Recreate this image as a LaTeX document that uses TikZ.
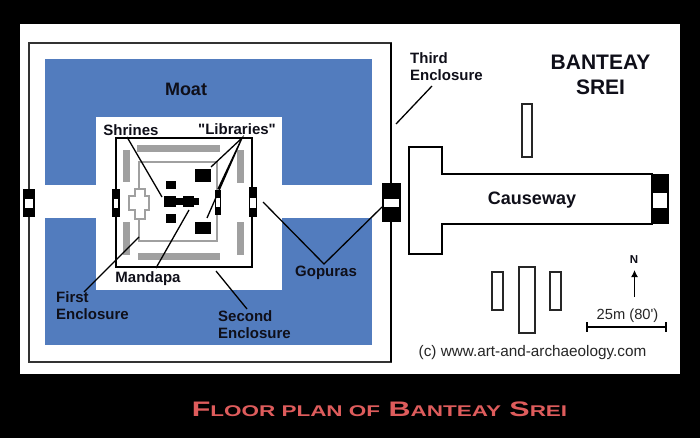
\documentclass[tikz,border=0pt]{standalone}
\usepackage{fontspec}
\usetikzlibrary{arrows.meta}
\setmainfont{Liberation Sans}
\newfontfamily\plainsans{Liberation Sans}
\definecolor{moatblue}{RGB}{82,124,190}
\definecolor{wallgrey}{RGB}{160,160,160}
\definecolor{titlered}{RGB}{222,92,92}
\definecolor{inkdark}{RGB}{15,15,25}
\tikzset{
 x=1pt,y=-1pt,
 lbl/.style={font=\fontsize{15}{17}\selectfont\bfseries,text=inkdark,inner sep=0pt,align=left},
 leader/.style={draw=black,line width=1.3pt},
 thinbox/.style={draw=black!85,line width=1.4pt,fill=white},
}
\begin{document}
\begin{tikzpicture}
\useasboundingbox (0,0) rectangle (700,438);
\fill[black] (0,0) rectangle (700,438);
\fill[white] (20,24) rectangle (680,374);
% moat
\fill[moatblue] (45,59) rectangle (372,345);
\fill[white] (45,185) rectangle (372,218);
\fill[white] (96,117) rectangle (282,290);
% third enclosure
\draw[draw=black!80,line width=1.8pt] (29,43) -- (391,43) -- (391,362) -- (29,362) -- cycle;
\draw[black,line width=2.6pt] (391,43) -- (391,362);
% first enclosure
\draw[black,line width=1.6pt] (116,138) rectangle (252,267);
% grey galleries
\fill[wallgrey] (137,145) rectangle (220,152);
\fill[wallgrey] (138,253) rectangle (220,260);
\fill[wallgrey] (123,150) rectangle (130,182);
\fill[wallgrey] (123,222) rectangle (130,255);
\fill[wallgrey] (237,150) rectangle (244,183);
\fill[wallgrey] (237,222) rectangle (244,255);
\draw[wallgrey,line width=1.2pt] (139,189) -- (139,162) -- (217,162) -- (217,241) -- (139,241) -- (139,219);
\draw[wallgrey,line width=1.2pt] (135,189) -- (145,189) -- (145,196) -- (149,196) -- (149,210) -- (145,210) -- (145,219) -- (135,219) -- (135,210) -- (129,210) -- (129,196) -- (135,196) -- cycle;
% sanctuary
\fill[black] (166,181) rectangle (176,189);
\fill[black] (166,214) rectangle (176,223);
\fill[black] (164,196) rectangle (176,207);
\fill[black] (176,198) rectangle (183,205);
\fill[black] (183,196) rectangle (194,207);
\fill[black] (194,198) rectangle (199,205);
\fill[black] (195,169) rectangle (211,182);
\fill[black] (195,222) rectangle (211,234);
% gopuras
\fill[black] (23,189) rectangle (35,217); \fill[white] (25,199) rectangle (33,208);
\fill[black] (112,189) rectangle (120,217); \fill[white] (114,199) rectangle (118,208);
\fill[black] (215,190) rectangle (221,215); \fill[white] (216,198) rectangle (220,207);
\fill[black] (249,187) rectangle (257,217); \fill[white] (250,198) rectangle (256,208);
\fill[black] (382,183) rectangle (401,222); \fill[white] (384,199) rectangle (399,207);
% causeway
\draw[black,line width=1.5pt,fill=white] (409,147) -- (442,147) -- (442,174) -- (652,174) -- (652,224) -- (442,224) -- (442,254) -- (409,254) -- cycle;
\fill[black] (652,174) rectangle (669,224); \fill[white] (653,193) rectangle (667,208);
% small buildings
\node[thinbox,minimum width=10pt,minimum height=53pt,inner sep=0pt] (north) at (527,130.5) {};
\node[thinbox,minimum width=11pt,minimum height=38pt,inner sep=0pt] (sa) at (497.5,291) {};
\node[thinbox,minimum width=16pt,minimum height=66pt,inner sep=0pt] (sb) at (527,300) {};
\node[thinbox,minimum width=11pt,minimum height=38pt,inner sep=0pt] (sc) at (555.5,291) {};
% leader ends
\coordinate (tA) at (396,124); \coordinate (tB) at (432,86);
\coordinate (shA) at (127,137); \coordinate (shB) at (162,197);
\coordinate (liA) at (242,138); \coordinate (liB) at (211,167); \coordinate (liC) at (218,189); \coordinate (liD) at (207,218);
\coordinate (maA) at (156,268); \coordinate (maB) at (189,210);
\coordinate (fiA) at (84,292); \coordinate (fiB) at (139,237);
\coordinate (seA) at (216,271); \coordinate (seB) at (247,309);
\coordinate (goA) at (263,202); \coordinate (goB) at (324,264); \coordinate (goD) at (382,207);
\draw[leader] (tA) -- (tB);
\draw[leader] (shA) -- (shB);
\draw[leader] (liB) -- (liA) -- (liC) (liA) -- (liD);
\draw[leader] (maA) -- (maB);
\draw[leader] (fiA) -- (fiB);
\draw[leader] (seA) -- (seB);
\draw[leader] (goA) -- (goB) -- (goD);
% labels
\node[lbl,font=\fontsize{18}{18}\selectfont\bfseries] (moat) at (186,89) {Moat};
\node[lbl] (shrines) at (131,130) {Shrines};
\node[lbl] (libs) at (237,129) {\plainsans"Libraries"};
\node[lbl] (mandapa) at (148,279) {Mandapa};
\node[lbl] (gopuras) at (326,273) {Gopuras};
\node[lbl,anchor=west] (first) at (56,306) {First\\Enclosure};
\node[lbl,anchor=west] (second) at (218,325) {Second\\Enclosure};
\node[lbl,anchor=west] (third) at (410,67) {Third\\Enclosure};
\node[lbl,align=center,font=\fontsize{21}{25}\selectfont\bfseries] (title) at (600.5,74.5) {BANTEAY\\SREI};
\node[lbl,font=\fontsize{18}{18}\selectfont\bfseries] (cw) at (532,200) {Causeway};
\node[lbl,font=\fontsize{15.3}{15.3}\selectfont,text=black!85] (cr) at (532.5,353) {(c) www.art-and-archaeology.com};
\node[lbl,font=\fontsize{14.7}{14.7}\selectfont,text=black!85] (sl) at (627.5,316) {\plainsans 25m (80')};
\node[lbl,font=\fontsize{11.5}{11.5}\selectfont\bfseries] (nl) at (634,260) {N};
% north arrow, scale bar
\coordinate (nA) at (634.5,297); \coordinate (nB) at (634.5,270);
\draw[black,line width=1.3pt,-{Latex[length=7pt,width=7pt]}] (nA) -- (nB);
\coordinate (sA) at (587,327); \coordinate (sB) at (666,327);
\draw[black,line width=1.2pt] (sA) -- (sB);
\draw[black,line width=1.2pt] (587,322) -- (587,332) (666,322) -- (666,332);
% caption
\node[inner sep=0pt,text=titlered,xscale=1.45,font=\fontsize{21}{21}\selectfont\bfseries] (cap) at (379.5,409)
 {F{\fontsize{15.5}{15.5}\selectfont LOOR PLAN OF} B{\fontsize{15.5}{15.5}\selectfont ANTEAY} S{\fontsize{15.5}{15.5}\selectfont REI}};
\end{tikzpicture}
\end{document}
